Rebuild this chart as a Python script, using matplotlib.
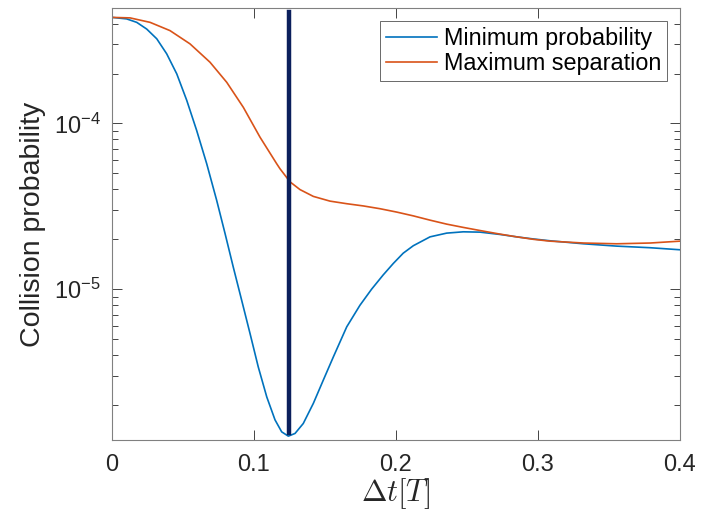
import numpy as np
import matplotlib
matplotlib.use('Agg')
import matplotlib.pyplot as plt
from matplotlib.ticker import FixedLocator, LogLocator, NullFormatter

# values
t_min = [0.0, 0.0103, 0.0174, 0.0244, 0.0315, 0.0385, 0.0456, 0.0526, 0.0596, 0.0667,
         0.0737, 0.0796, 0.0854, 0.0913, 0.0972, 0.103, 0.109, 0.1148, 0.1195, 0.1242,
         0.1289, 0.1347, 0.1418, 0.1488, 0.1559, 0.1653, 0.1746, 0.1828, 0.191, 0.1981,
         0.2051, 0.2122, 0.224, 0.2357, 0.2474, 0.2592, 0.2733, 0.285, 0.2968, 0.3085,
         0.332, 0.3554, 0.379, 0.4]
p_min = [4.36e-4, 4.27e-4, 4.07e-4, 3.71e-4, 3.24e-4, 2.63e-4, 1.99e-4, 1.38e-4, 9.08e-5, 5.71e-5,
         3.44e-5, 2.17e-5, 1.36e-5, 8.59e-6, 5.41e-6, 3.40e-6, 2.24e-6, 1.63e-6, 1.38e-6, 1.30e-6,
         1.35e-6, 1.55e-6, 2.05e-6, 2.83e-6, 3.91e-6, 5.93e-6, 8.0e-6, 1.0e-5, 1.22e-5, 1.43e-5,
         1.65e-5, 1.83e-5, 2.07e-5, 2.18e-5, 2.22e-5, 2.21e-5, 2.14e-5, 2.07e-5, 2.01e-5, 1.96e-5,
         1.88e-5, 1.82e-5, 1.78e-5, 1.73e-5]

t_sep = [0.0, 0.0127, 0.0268, 0.0408, 0.0549, 0.069, 0.0808, 0.0925, 0.1042, 0.116,
         0.1183, 0.1254, 0.1324, 0.1418, 0.1535, 0.1653, 0.177, 0.1887, 0.2005, 0.2122,
         0.224, 0.2357, 0.2474, 0.2592, 0.2733, 0.285, 0.2968, 0.3085, 0.332, 0.3554,
         0.379, 0.4]
p_sep = [4.36e-4, 4.33e-4, 4.07e-4, 3.63e-4, 3.02e-4, 2.34e-4, 1.77e-4, 1.25e-4, 8.27e-5, 5.71e-5,
         5.33e-5, 4.44e-5, 3.99e-5, 3.63e-5, 3.40e-5, 3.28e-5, 3.18e-5, 3.06e-5, 2.92e-5, 2.77e-5,
         2.61e-5, 2.47e-5, 2.36e-5, 2.26e-5, 2.15e-5, 2.07e-5, 2.00e-5, 1.95e-5, 1.90e-5, 1.88e-5,
         1.90e-5, 1.95e-5]

t_opt = 0.125
opt_range = [1.36e-6, 4.73e-4]

x_ticks = [0, 0.1, 0.2, 0.3, 0.4]
x_ticklabels = ['0', '0.1', '0.2', '0.3', '0.4']
y_ticks = [1e-5, 1e-4]
y_ticklabels = ['$10^{-5}$', '$10^{-4}$']

plt.rcParams['font.family'] = ['Liberation Sans', 'DejaVu Sans']
plt.rcParams['mathtext.fontset'] = 'custom'
plt.rcParams['mathtext.rm'] = 'Liberation Sans'
plt.rcParams['mathtext.it'] = 'Liberation Sans:italic'

fig = plt.figure(figsize=(7.09, 5.16), dpi=100)
ax = fig.add_axes([0.158, 0.147, 0.801, 0.837])

ax.plot(t_min, p_min, color='#0072BD', lw=1.2, label='Minimum probability')
ax.plot(t_sep, p_sep, color='#D95319', lw=1.2, label='Maximum separation')
ax.plot([t_opt, t_opt], opt_range, color='#0B1F5C', lw=3.2)

ax.set_yscale('log')
ax.set_xlim(0, 0.4)
ax.set_ylim(1.23e-6, 4.95e-4)

ax.xaxis.set_major_locator(FixedLocator(x_ticks))
ax.set_xticklabels(x_ticklabels)
ax.yaxis.set_major_locator(FixedLocator(y_ticks))
ax.set_yticklabels(y_ticklabels)
ax.yaxis.set_minor_locator(LogLocator(base=10, subs=np.arange(2, 10)))
ax.yaxis.set_minor_formatter(NullFormatter())

ax.tick_params(which='both', direction='in', top=True, right=True,
               colors='#262626', labelsize=17)
ax.tick_params(which='major', length=7, width=0.6)
ax.tick_params(which='minor', length=4, width=0.6)
ax.tick_params(axis='x', pad=10)
ax.tick_params(axis='y', pad=8)
for s in ax.spines.values():
  s.set_color('#808080')
  s.set_linewidth(0.8)

ax.set_ylabel('Collision probability', fontsize=20.5, color='#262626', labelpad=6)
ax.set_xlabel(r'$\Delta t[T]$', fontsize=22, color='#262626', math_fontfamily='cm', labelpad=0)

leg = ax.legend(loc='upper right', fontsize=16.8, frameon=True, fancybox=False,
                edgecolor='#262626', handlelength=2.2, borderaxespad=0.55,
                borderpad=0.25, labelspacing=0.1, handletextpad=0.3)
leg.get_frame().set_linewidth(0.6)

fig.savefig('out.png', dpi=100)
